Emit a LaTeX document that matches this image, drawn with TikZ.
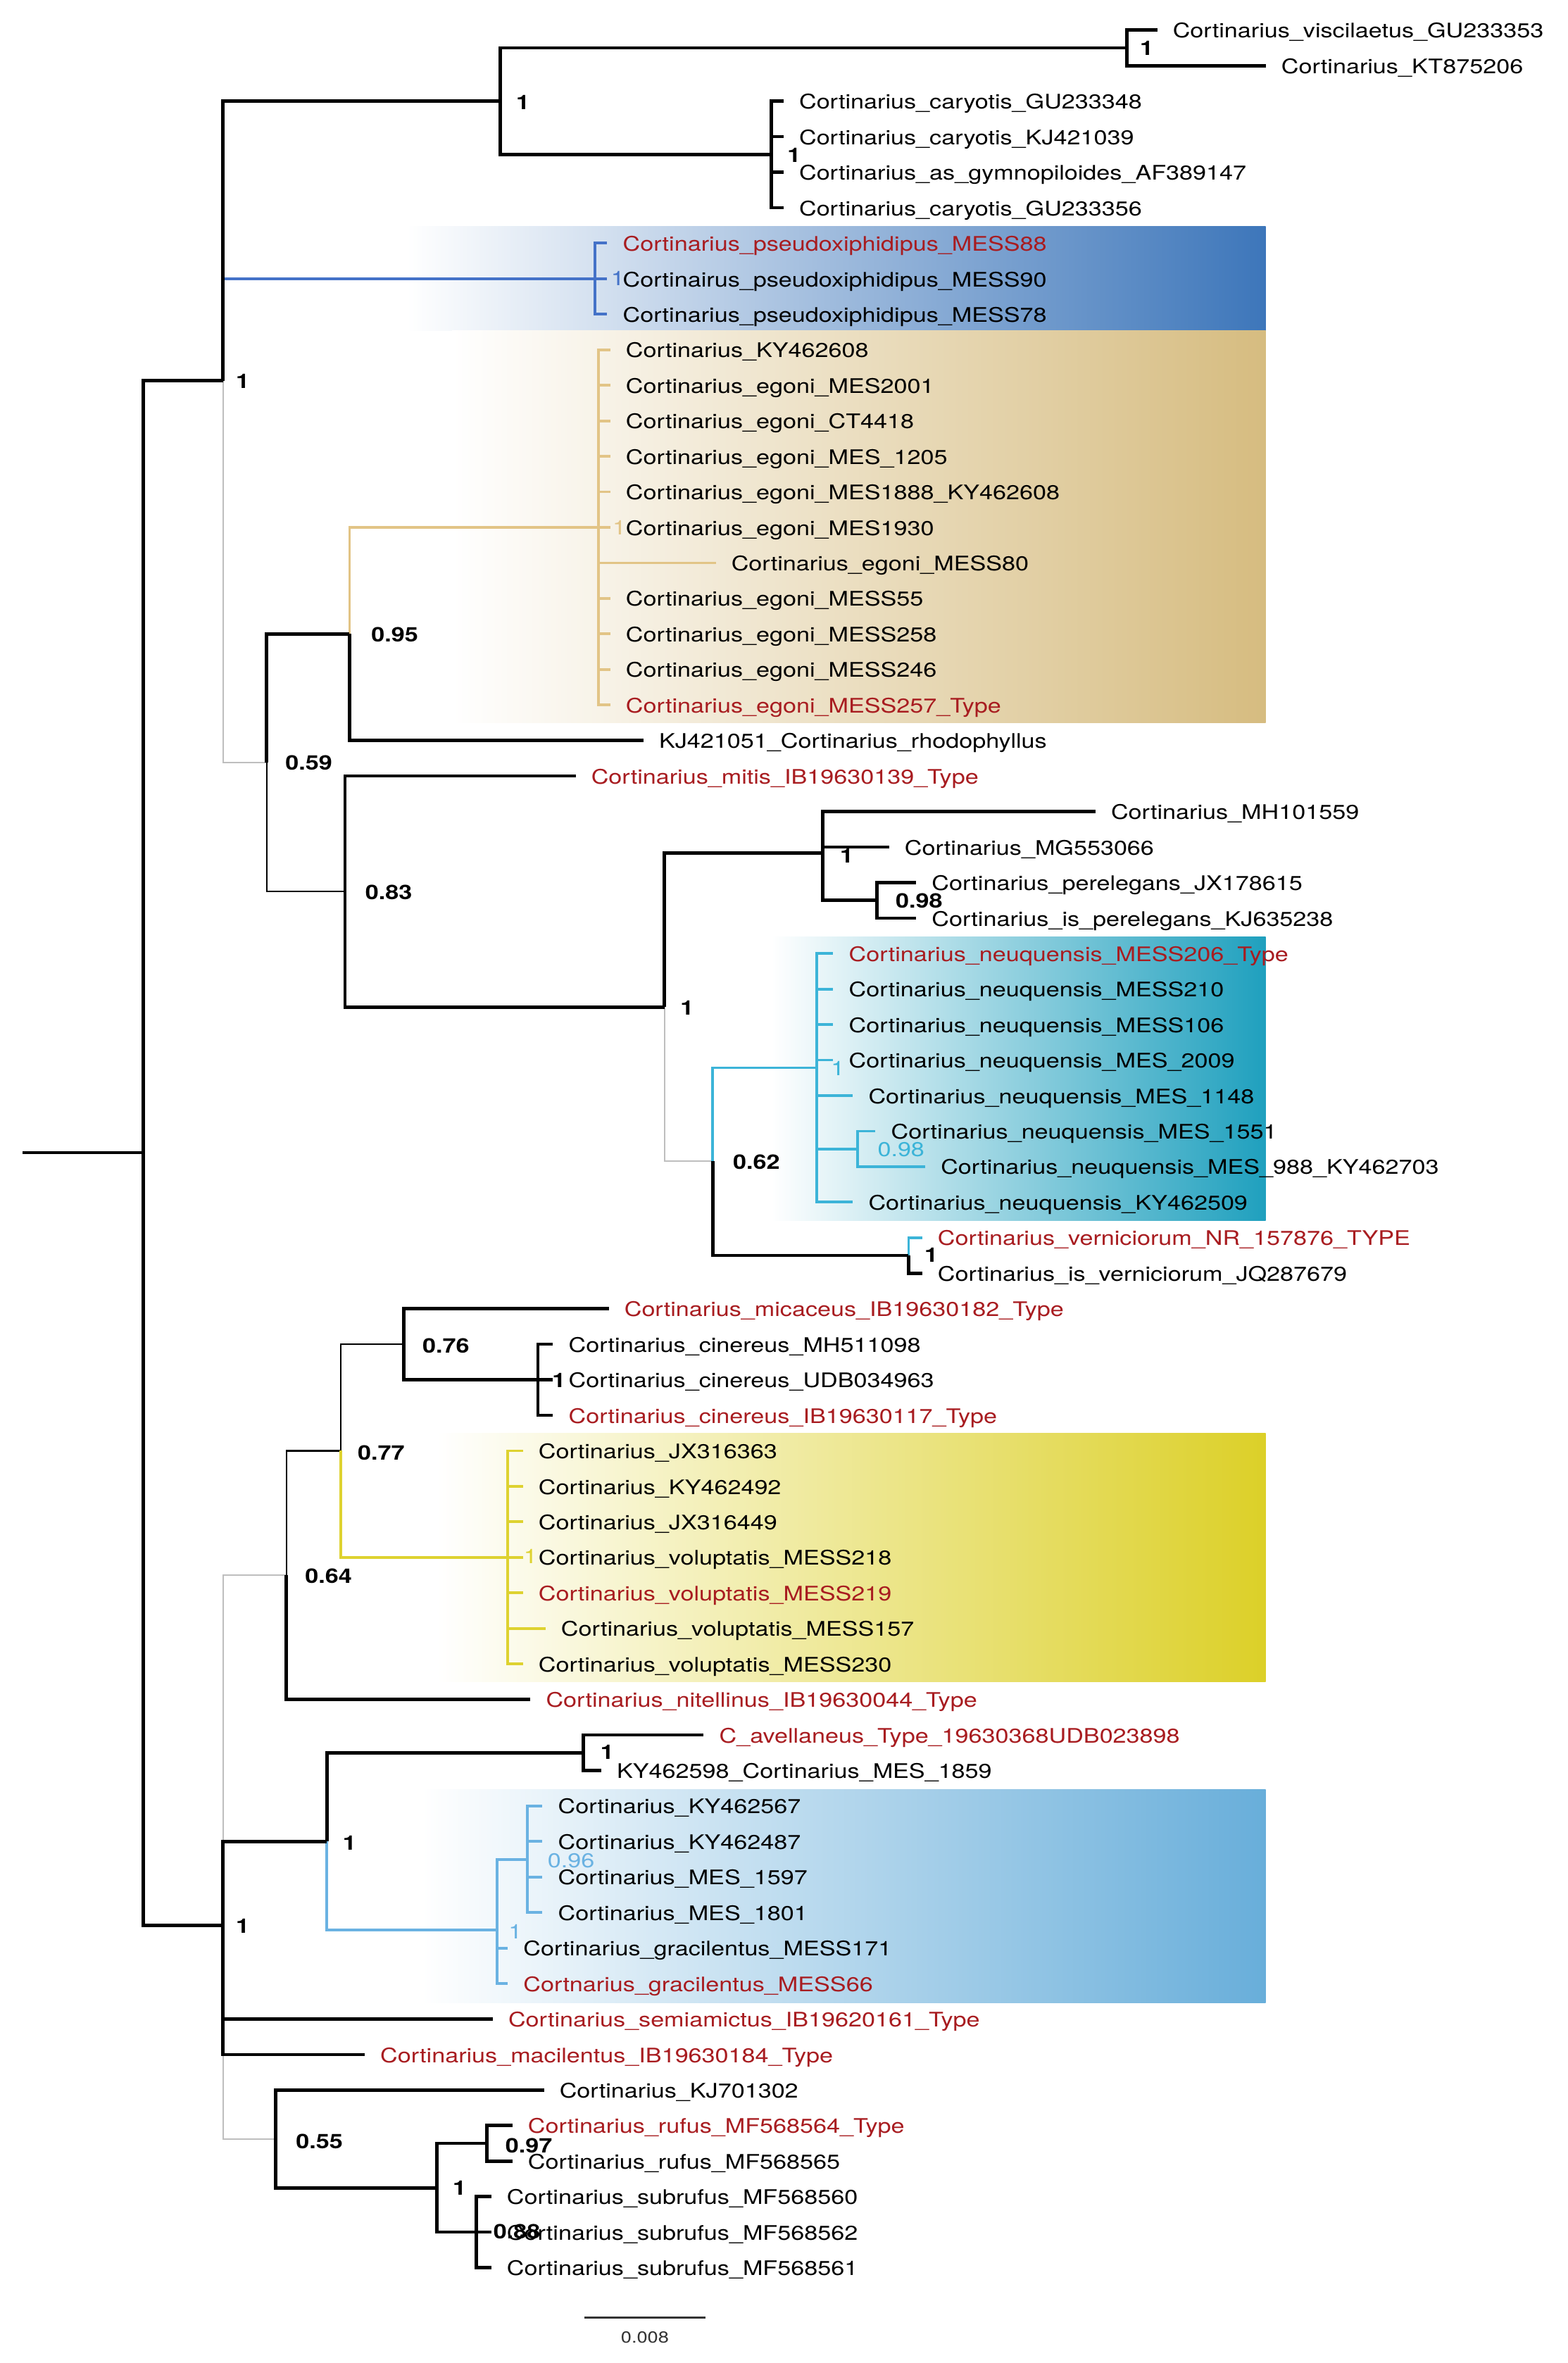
\documentclass[tikz,border=0pt]{standalone}
\usepackage{fontspec}
\setmainfont{TeX Gyre Heros}[FakeStretch=1.2]
\definecolor{redl}{RGB}{168,28,32}
\definecolor{cblue}{RGB}{68,114,200}
\definecolor{ctan}{RGB}{226,196,134}
\definecolor{ccyan}{RGB}{60,180,216}
\definecolor{cyel}{RGB}{222,210,48}
\definecolor{clb}{RGB}{106,178,226}
\definecolor{cgrey}{RGB}{190,190,190}
\definecolor{boxblue}{RGB}{61,118,186}
\definecolor{boxtan}{RGB}{214,188,128}
\definecolor{boxcyan}{RGB}{31,160,190}
\definecolor{boxyel}{RGB}{220,208,40}
\definecolor{boxlb}{RGB}{104,174,218}
\newcommand\labfont{\fontsize{6.65}{8}\selectfont}
\newcommand\barfont{\fontsize{5.3}{6}\selectfont}
\newcommand\mytip[5]{\coordinate (t#1) at (#2,#3); \node[#4] (l#1) at ([shift={(10,5.2)}]t#1) {#5};}
\begin{document}
\begin{tikzpicture}[x=0.5pt,y=-0.5pt,line join=miter,line cap=butt,
 brk/.style={line width=1.1pt, black},
 brn/.style={line width=0.5pt, black},
 brg/.style={line width=0.5pt, cgrey},
 brb/.style={line width=0.9pt, cblue},
 brt/.style={line width=0.9pt, ctan},
 brc/.style={line width=0.9pt, ccyan},
 bry/.style={line width=0.9pt, cyel},
 brl/.style={line width=0.9pt, clb},
 lab/.style={anchor=base west, inner sep=0pt, font=\labfont, text=black},
 labr/.style={lab, text=redl},
 supp/.style={anchor=center, inner sep=0pt, font=\labfont\bfseries, text=black},
 suppc/.style={anchor=center, inner sep=0pt, font=\labfont}]
\useasboundingbox (0,0) rectangle (1040.2,1568.2);
\fill[white] (0,0) rectangle (1040.2,1568.2);
% clade highlight boxes
\shade[left color=white, right color=boxblue] (270,150) rectangle (840,219.6);
\shade[left color=white, right color=boxtan] (300,219.6) rectangle (840,479.5);
\shade[left color=white, right color=boxcyan] (512,621.5) rectangle (840,810);
\shade[left color=white, right color=boxyel] (290,951) rectangle (840,1116);
\shade[left color=white, right color=boxlb] (280,1187.5) rectangle (840,1329);
% internal nodes
\coordinate (r0) at (15,765);
\coordinate (nA) at (95,765);
\coordinate (nB) at (148,252.7);
\coordinate (nC) at (148,1277.7);
\coordinate (nD) at (332,67);
\coordinate (nF) at (748,31.8);
\coordinate (nG) at (512,102.5);
\coordinate (nBl) at (395,185);
\coordinate (nE) at (177,506.2);
\coordinate (nH) at (232,420.7);
\coordinate (nTan) at (397,350);
\coordinate (nI) at (229,591.6);
\coordinate (nJ) at (441,668.3);
\coordinate (nK) at (546,566);
\coordinate (nM) at (582,597.5);
\coordinate (nL) at (473,770.6);
\coordinate (nCy) at (542,708.6);
\coordinate (nO) at (569,762.5);
\coordinate (nN) at (603,833.2);
\coordinate (nP) at (190,1045.4);
\coordinate (nS) at (226,962.8);
\coordinate (nT) at (268,892.1);
\coordinate (nU) at (357,915.7);
\coordinate (nYel) at (337,1033.5);
\coordinate (nQ) at (217,1222);
\coordinate (nV) at (387,1163.2);
\coordinate (nW) at (330,1281);
\coordinate (nX) at (350,1233.9);
\coordinate (nR) at (183,1419.5);
\coordinate (nY) at (290,1451.9);
\coordinate (nZ) at (323,1422.4);
\coordinate (nAA) at (316,1481.3);
% tips and labels
\mytip{1}{768}{20}{lab}{Cortinarius\_viscilaetus\_GU233353}
\mytip{2}{840}{43.6}{lab}{Cortinarius\_KT875206}
\mytip{3}{520}{67.1}{lab}{Cortinarius\_caryotis\_GU233348}
\mytip{4}{520}{90.7}{lab}{Cortinarius\_caryotis\_KJ421039}
\mytip{5}{520}{114.3}{lab}{Cortinarius\_as\_gymnopiloides\_AF389147}
\mytip{6}{520}{137.9}{lab}{Cortinarius\_caryotis\_GU233356}
\mytip{7}{403}{161.4}{labr}{Cortinarius\_pseudoxiphidipus\_MESS88}
\mytip{8}{403}{185.0}{lab}{Cortinairus\_pseudoxiphidipus\_MESS90}
\mytip{9}{403}{208.6}{lab}{Cortinarius\_pseudoxiphidipus\_MESS78}
\mytip{10}{405}{232.1}{lab}{Cortinarius\_KY462608}
\mytip{11}{405}{255.7}{lab}{Cortinarius\_egoni\_MES2001}
\mytip{12}{405}{279.3}{lab}{Cortinarius\_egoni\_CT4418}
\mytip{13}{405}{302.8}{lab}{Cortinarius\_egoni\_MES\_1205}
\mytip{14}{405}{326.4}{lab}{Cortinarius\_egoni\_MES1888\_KY462608}
\mytip{15}{405}{350.0}{lab}{Cortinarius\_egoni\_MES1930}
\mytip{16}{475}{373.6}{lab}{Cortinarius\_egoni\_MESS80}
\mytip{17}{405}{397.1}{lab}{Cortinarius\_egoni\_MESS55}
\mytip{18}{405}{420.7}{lab}{Cortinarius\_egoni\_MESS258}
\mytip{19}{405}{444.3}{lab}{Cortinarius\_egoni\_MESS246}
\mytip{20}{405}{467.8}{labr}{Cortinarius\_egoni\_MESS257\_Type}
\mytip{21}{427}{491.4}{lab}{KJ421051\_Cortinarius\_rhodophyllus}
\mytip{22}{382}{515.0}{labr}{Cortinarius\_mitis\_IB19630139\_Type}
\mytip{23}{727}{538.5}{lab}{Cortinarius\_MH101559}
\mytip{24}{590}{562.1}{lab}{Cortinarius\_MG553066}
\mytip{25}{608}{585.7}{lab}{Cortinarius\_perelegans\_JX178615}
\mytip{26}{608}{609.3}{lab}{Cortinarius\_is\_perelegans\_KJ635238}
\mytip{27}{553}{632.8}{labr}{Cortinarius\_neuquensis\_MESS206\_Type}
\mytip{28}{553}{656.4}{lab}{Cortinarius\_neuquensis\_MESS210}
\mytip{29}{553}{680.0}{lab}{Cortinarius\_neuquensis\_MESS106}
\mytip{30}{553}{703.5}{lab}{Cortinarius\_neuquensis\_MES\_2009}
\mytip{31}{566}{727.1}{lab}{Cortinarius\_neuquensis\_MES\_1148}
\mytip{32}{581}{750.7}{lab}{Cortinarius\_neuquensis\_MES\_1551}
\mytip{33}{614}{774.2}{lab}{Cortinarius\_neuquensis\_MES\_988\_KY462703}
\mytip{34}{566}{797.8}{lab}{Cortinarius\_neuquensis\_KY462509}
\mytip{35}{612}{821.4}{labr}{Cortinarius\_verniciorum\_NR\_157876\_TYPE}
\mytip{36}{612}{845.0}{lab}{Cortinarius\_is\_verniciorum\_JQ287679}
\mytip{37}{404}{868.5}{labr}{Cortinarius\_micaceus\_IB19630182\_Type}
\mytip{38}{367}{892.1}{lab}{Cortinarius\_cinereus\_MH511098}
\mytip{39}{367}{915.7}{lab}{Cortinarius\_cinereus\_UDB034963}
\mytip{40}{367}{939.2}{labr}{Cortinarius\_cinereus\_IB19630117\_Type}
\mytip{41}{347}{962.8}{lab}{Cortinarius\_JX316363}
\mytip{42}{347}{986.4}{lab}{Cortinarius\_KY462492}
\mytip{43}{347}{1009.9}{lab}{Cortinarius\_JX316449}
\mytip{44}{347}{1033.5}{lab}{Cortinarius\_voluptatis\_MESS218}
\mytip{45}{347}{1057.1}{labr}{Cortinarius\_voluptatis\_MESS219}
\mytip{46}{362}{1080.7}{lab}{Cortinarius\_voluptatis\_MESS157}
\mytip{47}{347}{1104.2}{lab}{Cortinarius\_voluptatis\_MESS230}
\mytip{48}{352}{1127.8}{labr}{Cortinarius\_nitellinus\_IB19630044\_Type}
\mytip{49}{467}{1151.4}{labr}{C\_avellaneus\_Type\_19630368UDB023898}
\mytip{50}{399}{1174.9}{lab}{KY462598\_Cortinarius\_MES\_1859}
\mytip{51}{360}{1198.5}{lab}{Cortinarius\_KY462567}
\mytip{52}{360}{1222.1}{lab}{Cortinarius\_KY462487}
\mytip{53}{360}{1245.6}{lab}{Cortinarius\_MES\_1597}
\mytip{54}{360}{1269.2}{lab}{Cortinarius\_MES\_1801}
\mytip{55}{337}{1292.8}{lab}{Cortinarius\_gracilentus\_MESS171}
\mytip{56}{337}{1316.4}{labr}{Cortnarius\_gracilentus\_MESS66}
\mytip{57}{327}{1339.9}{labr}{Cortinarius\_semiamictus\_IB19620161\_Type}
\mytip{58}{242}{1363.5}{labr}{Cortinarius\_macilentus\_IB19630184\_Type}
\mytip{59}{361}{1387.1}{lab}{Cortinarius\_KJ701302}
\mytip{60}{340}{1410.6}{labr}{Cortinarius\_rufus\_MF568564\_Type}
\mytip{61}{340}{1434.2}{lab}{Cortinarius\_rufus\_MF568565}
\mytip{62}{326}{1457.8}{lab}{Cortinarius\_subrufus\_MF568560}
\mytip{63}{326}{1481.3}{lab}{Cortinarius\_subrufus\_MF568562}
\mytip{64}{326}{1504.9}{lab}{Cortinarius\_subrufus\_MF568561}
% grey and thin branches
\draw[brg] (nB) |- (nE);
\draw[brg] (nJ) |- (nL);
\draw[brg] (nC) |- (nP);
\draw[brg] (nC) |- (nR);
\draw[brn] (nE) |- (nI);
\draw[brn] (nP) |- (nS);
\draw[brn] (nS) |- (nT);
% coloured clades
\draw[brb] (nB) |- (nBl);
\foreach \i in {7,8,9} \draw[brb] (nBl) |- (t\i);
\draw[brt] (nH) |- (nTan);
\foreach \i in {10,...,20} \draw[brt] (nTan) |- (t\i);
\draw[brc] (nL) |- (nCy);
\foreach \i in {27,...,31,34} \draw[brc] (nCy) |- (t\i);
\draw[brc] (nCy) |- (nO);
\draw[brc] (nO) |- (t32);
\draw[brc] (nO) |- (t33);
\draw[brc] (nN) |- (t35);
\draw[bry] (nS) |- (nYel);
\foreach \i in {41,...,47} \draw[bry] (nYel) |- (t\i);
\draw[brl] (nQ) |- (nW);
\draw[brl] (nW) |- (nX);
\draw[brl] (nW) |- (t55);
\draw[brl] (nW) |- (t56);
\foreach \i in {51,...,54} \draw[brl] (nX) |- (t\i);
% thick black branches
\draw[brk] (r0) -- (nA);
\draw[brk] (nA) |- (nB);
\draw[brk] (nA) |- (nC);
\draw[brk] (nB) |- (nD);
\draw[brk] (nD) |- (nF);
\draw[brk] (nD) |- (nG);
\draw[brk] (nF) |- (t1);
\draw[brk] (nF) |- (t2);
\foreach \i in {3,...,6} \draw[brk] (nG) |- (t\i);
\draw[brk] (nE) |- (nH);
\draw[brk] (nH) |- (t21);
\draw[brk] (nI) |- (t22);
\draw[brk] (nI) |- (nJ);
\draw[brk] (nJ) |- (nK);
\draw[brk] (nK) |- (t23);
\draw[brk] (nK) |- (t24);
\draw[brk] (nK) |- (nM);
\draw[brk] (nM) |- (t25);
\draw[brk] (nM) |- (t26);
\draw[brk] (nL) |- (nN);
\draw[brk] (nN) |- (t36);
\draw[brk] (nC) |- (nQ);
\draw[brk] (nC) |- (t57);
\draw[brk] (nC) |- (t58);
\draw[brk] (nP) |- (t48);
\draw[brk] (nT) |- (t37);
\draw[brk] (nT) |- (nU);
\foreach \i in {38,39,40} \draw[brk] (nU) |- (t\i);
\draw[brk] (nQ) |- (nV);
\draw[brk] (nV) |- (t49);
\draw[brk] (nV) |- (t50);
\draw[brk] (nR) |- (t59);
\draw[brk] (nR) |- (nY);
\draw[brk] (nY) |- (nZ);
\draw[brk] (nY) |- (nAA);
\draw[brk] (nZ) |- (t60);
\draw[brk] (nZ) |- (t61);
\foreach \i in {62,63,64} \draw[brk] (nAA) |- (t\i);
% support values
\node[supp] (sB) at (161,253) {1};
\node[supp] (sC) at (161,1278) {1};
\node[supp] (sD) at (347,68) {1};
\node[supp] (sF) at (761,32) {1};
\node[supp] (sG) at (527,103) {1};
\node[suppc,text=cblue] (sBl) at (410,185) {1};
\node[supp] (sE) at (205,506) {0.59};
\node[supp] (sH) at (262,421) {0.95};
\node[suppc,text=ctan] (sTan) at (411,350) {1};
\node[supp] (sI) at (258,592) {0.83};
\node[supp] (sJ) at (456,669) {1};
\node[supp] (sK) at (562,568) {1};
\node[supp] (sM) at (610,598) {0.98};
\node[supp] (sL) at (502,771) {0.62};
\node[suppc,text=ccyan] (sCy) at (556,709) {1};
\node[suppc,text=ccyan] (sO) at (598,763) {0.98};
\node[supp] (sN) at (618,833) {1};
\node[supp] (sP) at (218,1046) {0.64};
\node[supp] (sS) at (253,964) {0.77};
\node[supp] (sT) at (296,893) {0.76};
\node[supp] (sU) at (371,916) {1};
\node[suppc,text=cyel] (sYel) at (352,1033) {1};
\node[supp] (sQ) at (232,1223) {1};
\node[supp] (sV) at (403,1163) {1};
\node[suppc,text=clb] (sW) at (342,1282) {1};
\node[suppc,text=clb] (sX) at (379,1235) {0.96};
\node[supp] (sR) at (212,1421) {0.55};
\node[supp] (sY) at (305,1452) {1};
\node[supp] (sZ) at (351,1424) {0.97};
\node[supp] (sAA) at (343,1481) {0.88};
% scale bar
\coordinate (sb1) at (388,1538);
\coordinate (sb2) at (468,1538);
\draw[line width=0.6pt, black!80] (sb1) -- (sb2);
\node[anchor=center, inner sep=0pt, font=\barfont, text=black!80] (sbl) at (428,1551) {0.008};
\end{tikzpicture}
\end{document}
